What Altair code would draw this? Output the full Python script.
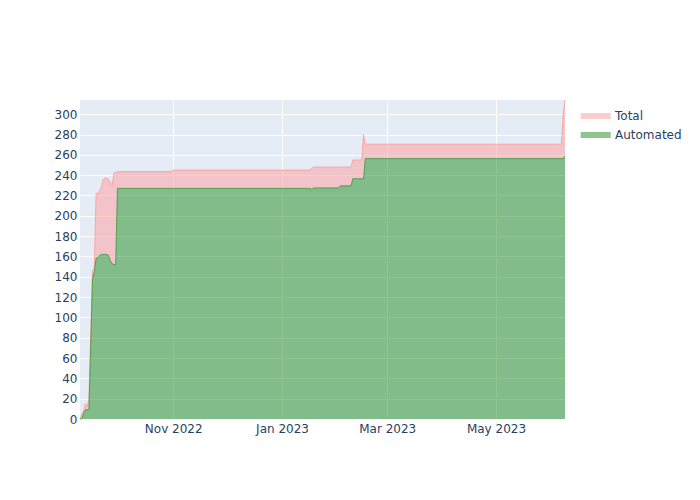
import altair as alt
import pandas as pd

# Daily snapshots (only change points kept)
dates = [
    "2022-09-09T17:00", "2022-09-10T17:00", "2022-09-11T17:00", "2022-09-12T17:00",
    "2022-09-13T17:00", "2022-09-14T17:00", "2022-09-15T17:00", "2022-09-16T17:00",
    "2022-09-17T17:00", "2022-09-18T17:00", "2022-09-19T17:00", "2022-09-20T17:00",
    "2022-09-21T17:00", "2022-09-22T17:00", "2022-09-23T17:00", "2022-09-24T17:00",
    "2022-09-25T17:00", "2022-09-26T17:00", "2022-09-27T17:00", "2022-09-28T17:00",
    "2022-09-29T17:00", "2022-09-30T17:00", "2022-10-30T17:00", "2022-10-31T17:00",
    "2023-01-16T17:00", "2023-01-17T17:00", "2023-01-18T17:00", "2023-02-01T17:00",
    "2023-02-02T17:00", "2023-02-08T17:00", "2023-02-09T17:00", "2023-02-14T17:00",
    "2023-02-15T17:00", "2023-02-16T17:00", "2023-06-06T17:00", "2023-06-07T17:00",
    "2023-06-08T17:00",
]
total = [
    0, 5, 8, 15,
    12, 20, 80, 146,
    148, 222, 222, 225,
    228, 236, 237, 237,
    236, 233, 230, 242,
    243, 243.5, 243.5, 245,
    245, 247, 248, 248,
    248, 248, 255, 255,
    280, 270.5, 270.5, 300,
    314,
]
automated = [
    0, 0, 6, 9,
    9, 10, 72, 138,
    145, 158, 159, 161,
    162, 162, 162, 162,
    161, 156, 153, 152,
    152, 227, 227, 227,
    227, 226, 227.5, 227.5,
    229.5, 229.5, 236.5, 236.5,
    236.5, 256.3, 256.3, 256.3,
    259,
]
series_names = ["Total", "Automated"]
fill_colors = ["rgb(255,153,153)", "rgb(30,140,30)"]
x_ticks = [(2022, 11), (2023, 1), (2023, 3), (2023, 5)]
y_ticks = list(range(0, 301, 20))

df = pd.DataFrame({"date": dates, "total": total, "automated": automated})

FONT = "DejaVu Sans"
TXT = "#2a3f5f"

x_enc = alt.X(
    "date:T",
    scale=alt.Scale(domain=[dates[0], dates[-1]], nice=False),
    axis=alt.Axis(
        values=[alt.DateTime(year=y, month=m, date=1) for y, m in x_ticks],
        format="%b %Y",
        grid=True, gridColor="white", gridWidth=1,
        domain=False, ticks=False, labelPadding=4,
        labelFont=FONT, labelFontSize=12, labelColor=TXT,
        title=None, labelFlush=False, labelOverlap=False,
    ),
)
y_scale = alt.Scale(domain=[0, max(total)], nice=False, zero=True)
y_axis = alt.Axis(
    values=y_ticks, grid=True, gridColor="white", gridWidth=1,
    domain=False, ticks=False, labelPadding=3, labelOverlap=False,
    labelFont=FONT, labelFontSize=12, labelColor=TXT, title=None,
)
color_scale = alt.Scale(domain=series_names, range=fill_colors)
legend = alt.Legend(
    title=None, orient="none", legendX=509.7, legendY=10,
    symbolType="M-3,-0.6H3V0.6H-3Z", symbolSize=100,
    symbolOpacity=0.5, symbolStrokeWidth=0,
    labelFont=FONT, labelFontSize=12, labelColor=TXT,
    labelOffset=13.3, rowPadding=7, padding=0,
)

base = alt.Chart(df).encode(x=x_enc)

pink = base.transform_calculate(series="'Total'").mark_area(
    fillOpacity=0.5, strokeWidth=0
).encode(
    y=alt.Y("total:Q", scale=y_scale, axis=y_axis),
    y2="automated:Q",
    color=alt.Color("series:N", scale=color_scale, legend=legend),
)
green = base.transform_calculate(series="'Automated'").mark_area(
    fillOpacity=0.5, strokeWidth=0
).encode(
    y=alt.Y("automated:Q", scale=y_scale, axis=y_axis),
    color=alt.Color("series:N", scale=color_scale, legend=legend),
)
line_t = base.mark_line(strokeWidth=0.8, color="rgb(255,153,153)").encode(
    y=alt.Y("total:Q", scale=y_scale, axis=y_axis)
)
line_a = base.mark_line(strokeWidth=0.8, color="rgb(30,140,30)", opacity=0.8).encode(
    y=alt.Y("automated:Q", scale=y_scale, axis=y_axis)
)

chart = (
    alt.layer(pink, green, line_t, line_a)
    .resolve_axis(y="shared")
    .properties(
        width=485, height=319,
        autosize="none",
        padding={"left": 72, "top": 92, "right": 127, "bottom": 73},
        background="white",
    )
    .configure_view(fill="#E5ECF6", stroke=None)
)

chart.save("out.html", embed_options={"renderer": "svg", "actions": False})
